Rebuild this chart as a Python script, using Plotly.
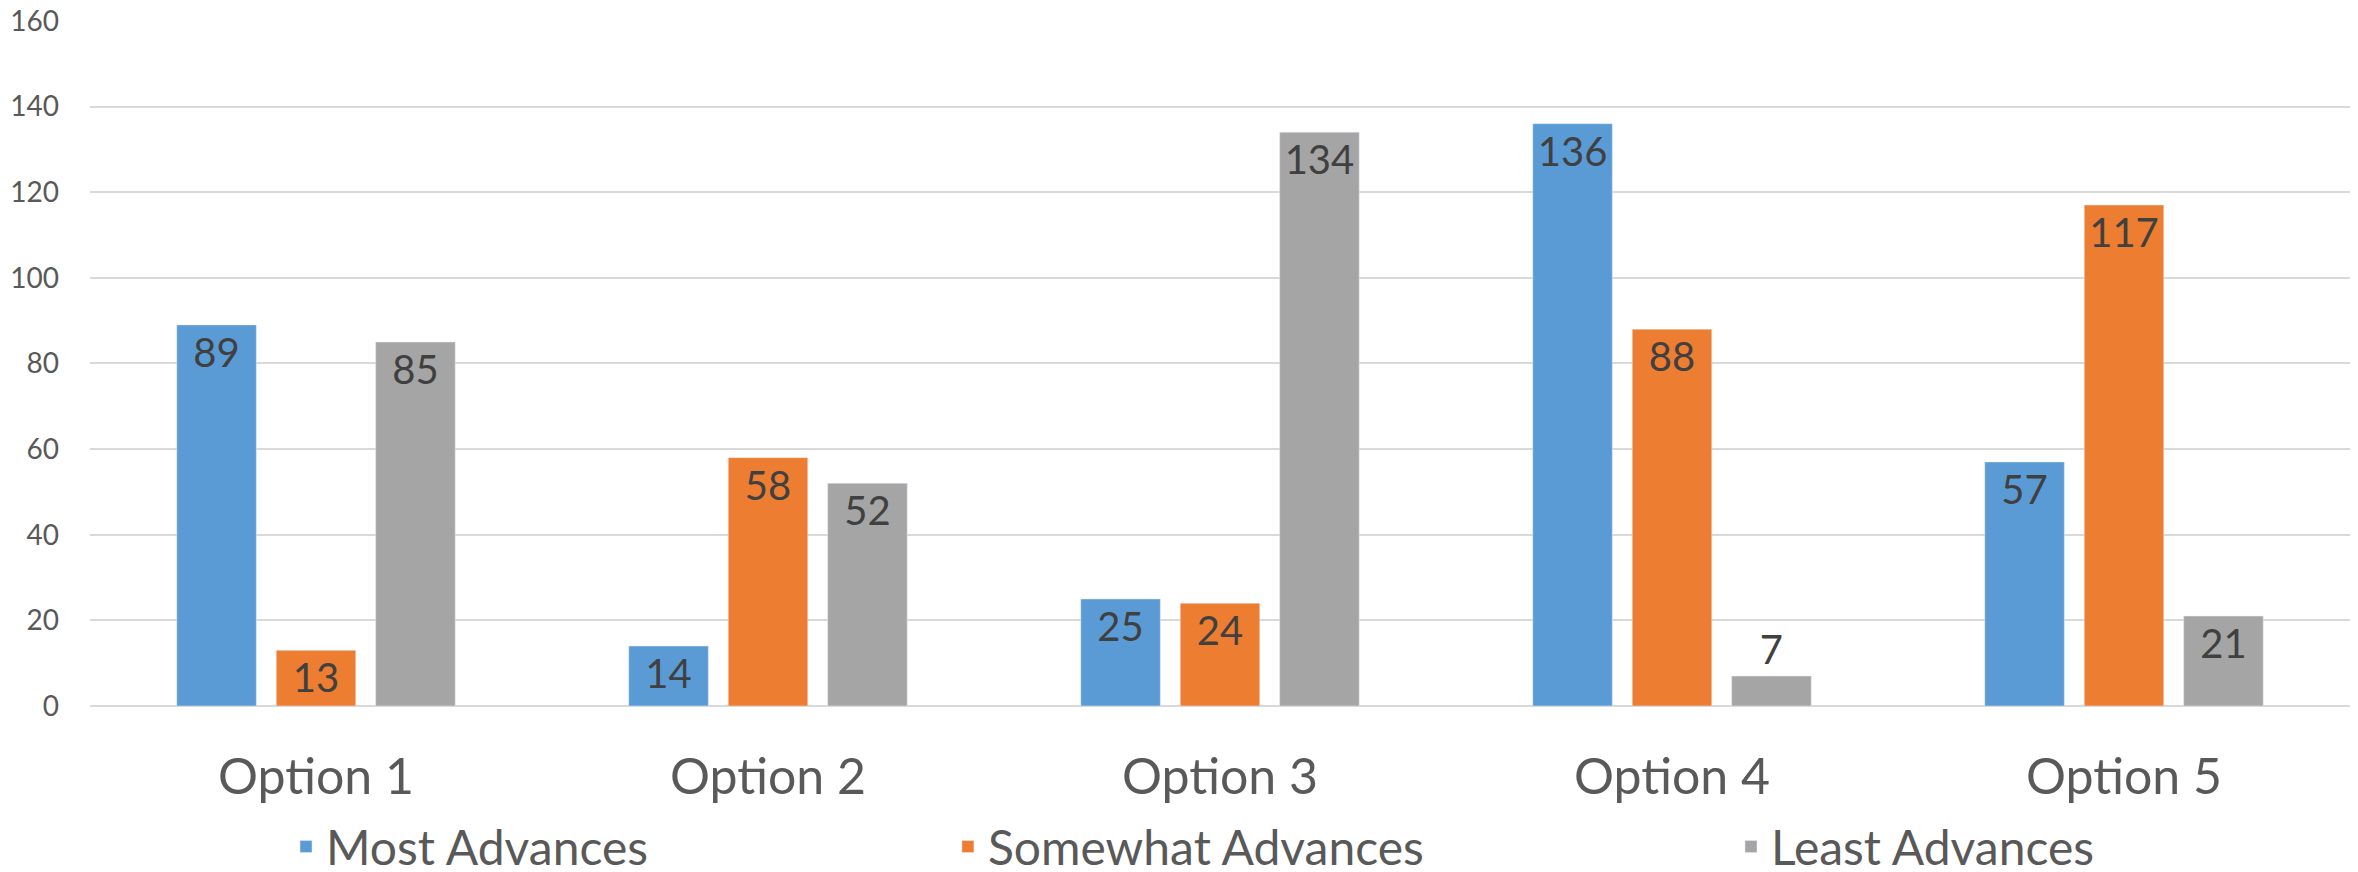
import plotly.graph_objects as go

# Chart data
options = ['Option 1', 'Option 2', 'Option 3', 'Option 4', 'Option 5']
most_advances = [89, 14, 25, 136, 57]
somewhat_advances = [13, 58, 24, 88, 117]
least_advances = [85, 52, 134, 7, 21]

series_names = ['Most Advances', 'Somewhat Advances', 'Least Advances']
series_values = [most_advances, somewhat_advances, least_advances]
series_colors = ['#5B9BD5', '#ED7D31', '#A5A5A5']
legend_ids = ['legend', 'legend2', 'legend3']

FONT = 'Lato, Open Sans, sans-serif'
TEXT_COLOR = '#595959'

fig = go.Figure()
for name, values, color, leg in zip(series_names, series_values, series_colors, legend_ids):
    # labels sit inside the bar top unless the bar is too short for them
    positions = ['outside' if v < 10 else 'inside' for v in values]
    fig.add_trace(go.Bar(
        x=options,
        y=values,
        name=name,
        legend=leg,
        showlegend=True,
        marker_color=color,
        text=values,
        textposition=positions,
        insidetextanchor='end',
        textangle=0,
        textfont=dict(size=40, color='#404040', family=FONT),
        cliponaxis=False,
    ))

legend_style = dict(
    orientation='h',
    xref='container', yref='container',
    xanchor='left', yanchor='middle',
    y=0.038,
    font=dict(size=48, color=TEXT_COLOR, family=FONT),
    bgcolor='rgba(0,0,0,0)',
)

# page body adds an 8px offset, margins compensate for it
fig.update_layout(
    width=2358,
    height=872,
    barmode='group',
    bargap=0.34,
    bargroupgap=0.2,
    plot_bgcolor='white',
    paper_bgcolor='white',
    margin=dict(l=82, r=16, t=12, b=174, autoexpand=False),
    font=dict(family=FONT, color=TEXT_COLOR),
    showlegend=True,
    legend=dict(legend_style, x=0.1179),
    legend2=dict(legend_style, x=0.3986),
    legend3=dict(legend_style, x=0.7307),
)

fig.update_yaxes(
    range=[0, 160.2],
    tickmode='array',
    tickvals=[0, 20, 40, 60, 80, 100, 120, 140, 160],
    gridcolor='#D9D9D9',
    gridwidth=2,
    zeroline=True,
    zerolinecolor='#D9D9D9',
    zerolinewidth=2,
    showline=False,
    tickfont=dict(size=28, color=TEXT_COLOR),
    ticklabelstandoff=30,
    ticklabeloverflow='allow',
)

fig.update_xaxes(
    showline=False,
    tickfont=dict(size=50, color=TEXT_COLOR),
    ticklabelstandoff=37,
)

fig.write_html("out.html")
